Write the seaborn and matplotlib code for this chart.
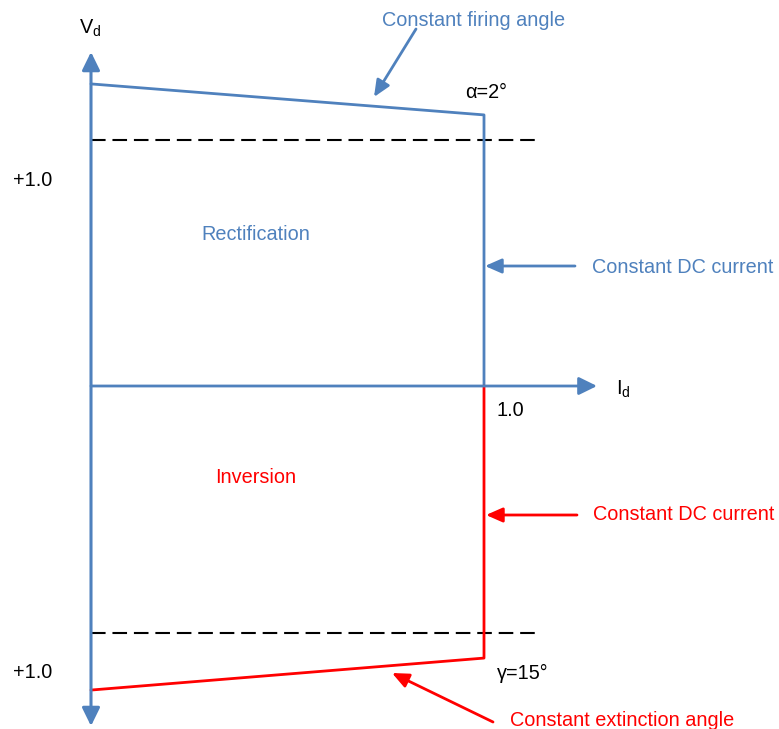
import matplotlib
matplotlib.use("Agg")
import matplotlib.pyplot as plt
import seaborn as sns
import pandas as pd

# ---- data (I_d in p.u., V_d in p.u.) ----
rect_current = [0.0, 1.0, 1.0]
rect_voltage = [1.228, 1.102, 0.0]
inv_current = [1.0, 1.0, 0.0]
inv_voltage = [0.0, -1.106, -1.236]
limit_current = [0.0, 1.135]
limit_voltage_pos = [1.0, 1.0]
limit_voltage_neg = [-1.004, -1.004]

BLUE = "#4F81BD"
RED = "#FF0000"

sns.set_style("white")
plt.rcParams["font.family"] = ["Liberation Sans", "DejaVu Sans"]
plt.rcParams["mathtext.fontset"] = "custom"
plt.rcParams["mathtext.rm"] = "Liberation Sans"

W, H = 779, 729
fig = plt.figure(figsize=(W / 100, H / 100), dpi=100)
ax = fig.add_axes([0, 0, 1, 1])
OX, OY, SX, SY = 91, 386, 393, 246
ax.set_xlim(-OX / SX, (W - OX) / SX)
ax.set_ylim((OY - H) / SY, OY / SY)
ax.axis("off")


def P(px, py):
    return ((px - OX) / SX, (OY - py) / SY)


# axes arrows
ax.annotate("", xy=P(91, 52), xytext=P(91, 726),
            arrowprops=dict(arrowstyle="<|-|>,head_length=0.55,head_width=0.27", lw=2.2,
                            color=BLUE, shrinkA=0, shrinkB=0, mutation_scale=20))
ax.annotate("", xy=P(597, 386), xytext=P(91, 386),
            arrowprops=dict(arrowstyle="-|>,head_length=0.55,head_width=0.27", lw=2.0,
                            color=BLUE, shrinkA=0, shrinkB=0, mutation_scale=20))

# dashed limits
df_lim = pd.DataFrame({"I": limit_current * 2,
                       "V": limit_voltage_pos + limit_voltage_neg,
                       "g": ["p", "p", "n", "n"]})
for g, sub in df_lim.groupby("g"):
    sns.lineplot(data=sub, x="I", y="V", ax=ax, color="black", lw=1.5,
                 dashes=False, sort=False, estimator=None).lines[-1].set_dashes((7, 3.3))

# characteristics
sns.lineplot(x=rect_current, y=rect_voltage, ax=ax, color=BLUE, lw=2.0,
             sort=False, estimator=None)
sns.lineplot(x=inv_current, y=inv_voltage, ax=ax, color=RED, lw=2.0,
             sort=False, estimator=None)

fs = 14.3
arr = dict(arrowstyle="-|>,head_length=0.5,head_width=0.22", lw=2.0,
           shrinkA=0, shrinkB=0, mutation_scale=20)
d = 3  # vertical text offset

# annotations
ax.text(*P(382, 18 + d), "Constant firing angle", color=BLUE, fontsize=fs, ha="left", va="center")
ax.annotate("", xy=P(374, 97), xytext=P(416, 29), arrowprops=dict(color=BLUE, **arr))
ax.text(*P(465, 89 + d), "α=2°", color="black", fontsize=fs, ha="left", va="center")

ax.text(*P(592, 265 + d), "Constant DC current", color=BLUE, fontsize=fs, ha="left", va="center")
ax.annotate("", xy=P(485, 266), xytext=P(575, 266), arrowprops=dict(color=BLUE, **arr))

ax.text(*P(256, 232 + d), "Rectification", color=BLUE, fontsize=fs, ha="center", va="center")
ax.text(*P(256, 475 + d), "Inversion", color=RED, fontsize=fs, ha="center", va="center")

ax.text(*P(593, 511 + d), "Constant DC current", color=RED, fontsize=fs, ha="left", va="center")
ax.annotate("", xy=P(486, 515), xytext=P(577, 515), arrowprops=dict(color=RED, **arr))

ax.text(*P(497, 670 + d), "γ=15°", color="black", fontsize=fs, ha="left", va="center")
ax.text(*P(510, 718 + d), "Constant extinction angle", color=RED, fontsize=fs, ha="left", va="center")
ax.annotate("", xy=P(392, 673), xytext=P(493, 722), arrowprops=dict(color=RED, **arr))

ax.text(*P(497, 408 + d), "1.0", color="black", fontsize=fs, ha="left", va="center")
ax.text(*P(616, 386 + d), r"$\mathregular{I_d}$", color="black", fontsize=fs, ha="left", va="center")
ax.text(*P(79, 25 + d), r"$\mathregular{V_d}$", color="black", fontsize=fs, ha="left", va="center")
ax.text(*P(13, 178 + d), "+1.0", color="black", fontsize=fs, ha="left", va="center")
ax.text(*P(13, 669 + d), "+1.0", color="black", fontsize=fs, ha="left", va="center")

fig.savefig("out.png", dpi=100)
